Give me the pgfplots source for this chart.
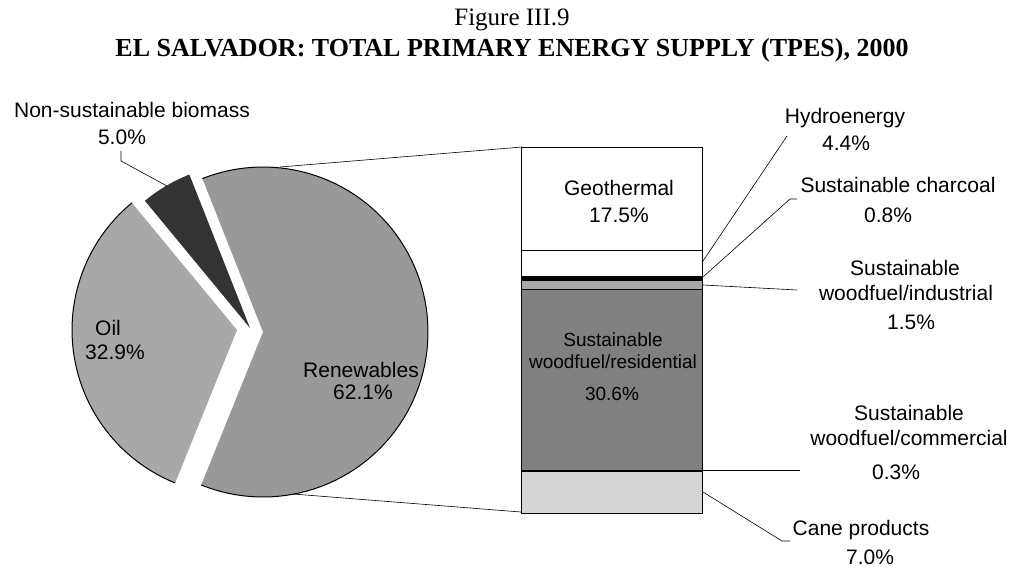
\documentclass[border=0pt]{standalone}
\usepackage{pgfplots}
\pgfplotsset{compat=1.18}
\usepackage{fontspec}
\setmainfont{Liberation Sans}
\newfontfamily\seriffont{Liberation Serif}
\definecolor{oilc}{gray}{0.66}
\definecolor{renc}{gray}{0.60}
\definecolor{bioc}{gray}{0.20}
\definecolor{indc}{gray}{0.66}
\definecolor{resc}{gray}{0.50}
\definecolor{canec}{gray}{0.84}
% pie data (%)
\def\vRen{62.1}
\def\vBio{5.0}
\def\vOil{32.9}
\pgfmathsetmacro\aA{-112}
\pgfmathsetmacro\aB{\aA+3.6*\vRen}
\pgfmathsetmacro\aC{\aB+3.6*\vBio}
\pgfmathsetmacro\aD{\aC+3.6*\vOil}
\newcommand\lab{\fontsize{21}{24}\selectfont}
\begin{document}
\begin{tikzpicture}
% stacked bar of renewables (drawn first so labels sit on top)
\begin{axis}[at={(521pt,54pt)}, anchor=south west, width=181pt, height=366pt,
  scale only axis, xmin=0, xmax=1, ymin=0, ymax=62.1, hide axis, clip=false,
  ybar stacked, bar width=181pt]
\addplot[fill=canec, draw=black, line width=0.8pt] coordinates {(0.5,7.0)};
\addplot[fill=resc, draw=black, line width=0.6pt] coordinates {(0.5,0.3)};
\addplot[fill=resc, draw=black, line width=0.6pt] coordinates {(0.5,30.6)};
\addplot[fill=indc, draw=black, line width=0.6pt] coordinates {(0.5,1.5)};
\addplot[fill=black, draw=black, line width=0.6pt] coordinates {(0.5,0.8)};
\addplot[fill=white, draw=black, line width=0.8pt] coordinates {(0.5,4.4)};
\addplot[fill=white, draw=black, line width=0.8pt] coordinates {(0.5,17.5)};
\draw[black, line width=2pt] (axis cs:0,0) -- (axis cs:1,0);
\end{axis}
\begin{axis}[x=1pt, y=1pt, xmin=0, xmax=1012, ymin=0, ymax=567, y dir=reverse,
  hide axis, clip=false, at={(0,0)}, anchor=south west]
\path (axis cs:0,0) rectangle (axis cs:1012,567);
% Renewables (exploded)
\addplot[fill=renc, draw=none, domain=\aA:\aB, samples=90, variable=\t]
  ({263+165*cos(\t)},{332-165*sin(\t)}) -- (axis cs:263,332) -- cycle;
\addplot[draw=black, line width=1pt, domain=\aA:\aB, samples=90, variable=\t]
  ({263+165*cos(\t)},{332-165*sin(\t)});
% Non-sustainable biomass
\addplot[fill=bioc, draw=none, domain=\aB:\aC, samples=20, variable=\t]
  ({250+165*cos(\t)},{328-165*sin(\t)}) -- (axis cs:250,328) -- cycle;
% Oil
\addplot[fill=oilc, draw=none, domain=\aC:\aD, samples=60, variable=\t]
  ({237+165*cos(\t)},{330-165*sin(\t)}) -- (axis cs:237,330) -- cycle;
\addplot[draw=black, line width=1pt, domain=\aC:\aD, samples=60, variable=\t]
  ({237+165*cos(\t)},{330-165*sin(\t)});
% connectors pie -> bar
\draw[black, line width=0.6pt] (axis cs:280,167) -- (axis cs:522,147);
\draw[black, line width=0.6pt] (axis cs:293,494) -- (axis cs:521,512);
% leader lines
\draw[black, line width=0.6pt] (axis cs:121,151) -- (axis cs:121,161) -- (axis cs:167,186);
\draw[black, line width=0.6pt] (axis cs:703,261) -- (axis cs:787,136);
\draw[black, line width=0.6pt] (axis cs:703,277) -- (axis cs:790,199) -- (axis cs:797,199);
\draw[black, line width=0.6pt] (axis cs:703,285) -- (axis cs:797,290);
\draw[black, line width=0.6pt] (axis cs:702,470) -- (axis cs:800,470);
\draw[black, line width=0.6pt] (axis cs:703,492) -- (axis cs:782,541) -- (axis cs:790,541);
% titles
\node[font=\seriffont\fontsize{25}{28}\selectfont] at (axis cs:512,20) {Figure III.9};
\node[font=\seriffont\bfseries\fontsize{26}{28}\selectfont] at (axis cs:512,50) {EL SALVADOR: TOTAL PRIMARY ENERGY SUPPLY (TPES), 2000};
% pie labels
\node[font=\lab] at (axis cs:132,110) {Non-sustainable biomass};
\node[font=\lab] at (axis cs:122,137) {5.0\%};
\node[font=\lab] at (axis cs:108,328) {Oil};
\node[font=\lab] at (axis cs:115,352) {32.9\%};
\node[font=\lab] at (axis cs:361,370) {Renewables};
\node[font=\lab] at (axis cs:363,392) {62.1\%};
% bar labels
\node[font=\lab] at (axis cs:619,188) {Geothermal};
\node[font=\lab] at (axis cs:619,215) {17.5\%};
\node[font=\fontsize{19}{22}\selectfont] at (axis cs:613,340) {Sustainable};
\node[font=\fontsize{19}{22}\selectfont] at (axis cs:613,362) {woodfuel/residential};
\node[font=\fontsize{19}{22}\selectfont] at (axis cs:612,394) {30.6\%};
% right labels
\node[font=\lab] at (axis cs:845,118) {Hydroenergy};
\node[font=\lab] at (axis cs:846,143) {4.4\%};
\node[font=\lab] at (axis cs:898,185) {Sustainable charcoal};
\node[font=\lab] at (axis cs:888,215) {0.8\%};
\node[font=\lab] at (axis cs:905,268) {Sustainable};
\node[font=\lab] at (axis cs:906,293) {woodfuel/industrial};
\node[font=\lab] at (axis cs:911,322) {1.5\%};
\node[font=\lab] at (axis cs:909,413) {Sustainable};
\node[font=\lab] at (axis cs:909,438) {woodfuel/commercial};
\node[font=\lab] at (axis cs:896,472) {0.3\%};
\node[font=\lab] at (axis cs:861,530) {Cane products};
\node[font=\lab] at (axis cs:870,557) {7.0\%};
\end{axis}
\end{tikzpicture}
\end{document}
